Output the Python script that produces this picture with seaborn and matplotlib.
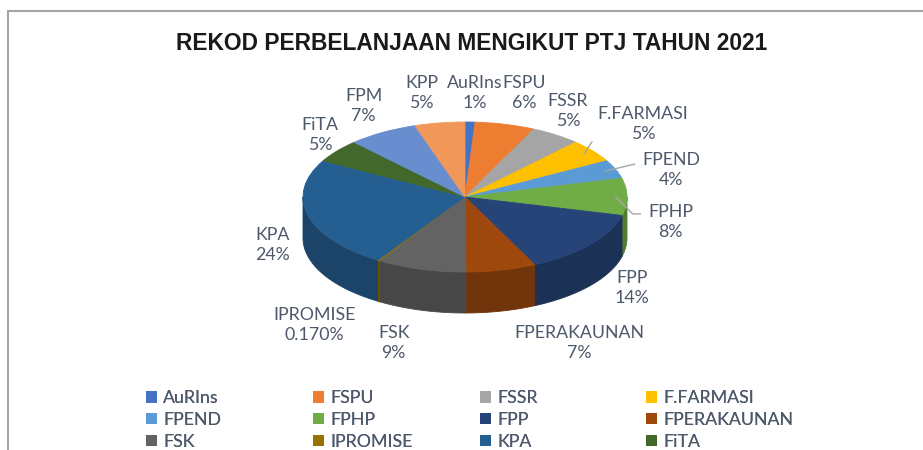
import numpy as np
import pandas as pd
import matplotlib
matplotlib.use("Agg")
import matplotlib.pyplot as plt
from matplotlib.patches import Patch, Rectangle
from matplotlib import colors as mcolors
import seaborn as sns

# spending share per PTJ (percent)
ptj = ["AuRIns", "FSPU", "FSSR", "F.FARMASI", "FPEND", "FPHP", "FPP",
       "FPERAKAUNAN", "FSK", "IPROMISE", "KPA", "FiTA", "FPM", "KPP"]
share = [1, 6, 5, 5, 4, 8, 14, 7, 9, 0.17, 24, 5, 7, 5]
share_text = ["1%", "6%", "5%", "5%", "4%", "8%", "14%", "7%", "9%",
              "0.170%", "24%", "5%", "7%", "5%"]
slice_colors = ["#4472C4", "#ED7D31", "#A5A5A5", "#FFC000", "#5B9BD5",
                "#70AD47", "#264478", "#9E480E", "#636363", "#997300",
                "#255E91", "#43682B", "#698ED0", "#F1975A"]

df = pd.DataFrame({"ptj": ptj, "share": share, "text": share_text,
                   "color": slice_colors})

sns.set_theme(style="white")
plt.rcParams["font.family"] = ["Lato", "DejaVu Sans"]
text_col = "#4d596b"
fs = 12.8

W, H = 923, 450
fig = plt.figure(figsize=(W / 100, H / 100), dpi=100)
ax = fig.add_axes([0, 0, 1, 1])

# pie geometry (pixels): squashed ellipse + extruded side
cx, cy_px = 465, 197
R = 162
k = 75 / 162          # vertical squash
depth = 41 / k
cy = (H - cy_px) / k

wedges, _ = ax.pie(df["share"], colors=df["color"], startangle=90,
                   counterclock=False, center=(cx, cy), radius=R,
                   wedgeprops=dict(linewidth=0.6))
for w, c in zip(wedges, df["color"]):
    w.set_edgecolor(c)
    w.set_zorder(3)

# side walls for the front half of the pie
for w, c in zip(wedges, df["color"]):
    lo, hi = max(w.theta1, -180), min(w.theta2, 0)
    if hi <= lo:
        continue
    t = np.radians(np.linspace(lo, hi, 60))
    xs = cx + R * np.cos(t)
    ys = cy + R * np.sin(t)
    dark = tuple(np.array(mcolors.to_rgb(c)) * 0.72)
    ax.fill(np.r_[xs, xs[::-1]], np.r_[ys, ys[::-1] - depth],
            color=dark, lw=0.6, zorder=2)

ax.set_xlim(0, W)
ax.set_ylim(0, H / k)
ax.set_aspect("auto")
ax.axis("off")

# data labels: pixel offsets from the rim at each slice's mid angle
label_offset = {
    "AuRIns": (5, -29), "FSPU": (19, -31), "FSSR": (12, -24),
    "F.FARMASI": (59, -30), "FPEND": (66, -1), "FPHP": (55, 25),
    "FPP": (42, 43), "FPERAKAUNAN": (78, 73), "FSK": (-27, 74),
    "IPROMISE": (-64, 65), "KPA": (-35, 30), "FiTA": (-17, -16),
    "FPM": (-19, -26), "KPP": (-18, -30),
}
leader = {"F.FARMASI": "angle,angleA=0,angleB=57,rad=0",
          "FPEND": "arc3,rad=0",
          "FPHP": "angle,angleA=0,angleB=-45,rad=0"}

for w, row in zip(wedges, df.itertuples()):
    mid = np.radians((w.theta1 + w.theta2) / 2)
    dx, dy = label_offset[row.ptj]
    xy = (cx + R * np.cos(mid), cy + R * np.sin(mid))
    kw = {}
    if row.ptj in leader:
        xy = (cx + 0.93 * R * np.cos(mid), cy + 0.93 * R * np.sin(mid))
        kw["arrowprops"] = dict(arrowstyle="-", color="#a6a6a6", lw=1,
                                shrinkA=3, shrinkB=0, relpos=(0, 0.72),
                                connectionstyle=leader[row.ptj])
    ax.annotate(f"{row.ptj}\n{row.text}", xy=xy, xytext=(dx, -dy),
                textcoords="offset pixels", ha="center", va="center",
                fontsize=fs, color=text_col, linespacing=1.3,
                zorder=5, **kw)

fig.text(472 / W, 1 - 43 / H, "REKOD PERBELANJAAN MENGIKUT PTJ TAHUN 2021",
         ha="center", va="center", fontsize=16.4, fontweight="bold",
         family=["Liberation Sans", "DejaVu Sans"], color="#1a1a1a")

# legend: first 12 entries, 4 evenly spaced columns
n_leg = 12
handles = [Patch(facecolor=c, edgecolor="none") for c in df["color"][:n_leg]]
labels = list(df["ptj"][:n_leg])
col_x = [146, 313, 480, 646]
for j, x in enumerate(col_x):
    idx = list(range(j, n_leg, 4))
    leg = fig.legend([handles[i] for i in idx], [labels[i] for i in idx],
                     loc="upper left", bbox_to_anchor=(x / W, 1 - 390 / H),
                     frameon=False, handlelength=0.62, handleheight=0.62,
                     handletextpad=0.35, labelspacing=0.33, borderpad=0,
                     borderaxespad=0, fontsize=fs, labelcolor=text_col)
    fig.add_artist(leg)

fig.add_artist(Rectangle((8 / W, -0.1), 1.2, 1 - 11 / H + 0.1,
                         transform=fig.transFigure, fill=False,
                         edgecolor="#a6a6a6", lw=1.5))

fig.savefig("out.png", dpi=100)
